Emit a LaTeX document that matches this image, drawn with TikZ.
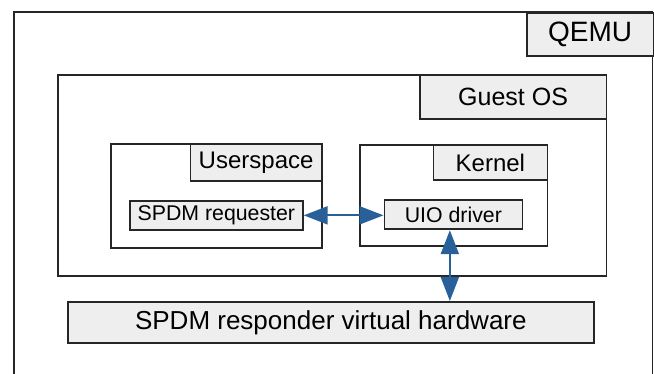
\documentclass[tikz,border=0pt]{standalone}
\usepackage{fontspec}
\setmainfont{Liberation Sans}
\usetikzlibrary{arrows.meta}
\definecolor{arrowblue}{HTML}{2A6099}
\definecolor{lblgray}{HTML}{EEEEEE}
\tikzset{
  frame/.style={draw=black!85, line width=1.7pt},
  box/.style={draw=black!85, line width=1.7pt, inner sep=0pt, anchor=north west, rectangle},
  lbl/.style={box, fill=lblgray, text=black},
  conn/.style={draw=arrowblue, line width=2pt, {Triangle[length=24pt,width=18pt]}-{Triangle[length=24pt,width=18pt]}, fill=arrowblue},
}
\begin{document}
\begin{tikzpicture}[x=1pt,y=-1pt]
\useasboundingbox (0,0) rectangle (654,374);
% QEMU outer frame (open at bottom)
\draw[frame] (13.75,380) -- (13.75,12) -- (652.5,12) -- (652.5,380);
\node[lbl, minimum width=126.5pt, minimum height=43pt, font=\fontsize{28}{30}\selectfont] (qemu) at (526,12) {QEMU};
% Guest OS
\node[box, minimum width=548.5pt, minimum height=201pt] (guest) at (57,74) {};
\node[lbl, minimum width=186.5pt, minimum height=44pt, font=\fontsize{25}{28}\selectfont] (guestlbl) at (419,74) {Guest OS};
% Userspace
\node[box, minimum width=211pt, minimum height=103.5pt] (user) at (110,143.5) {};
\node[lbl, minimum width=131.5pt, minimum height=36.5pt, font=\fontsize{24}{27}\selectfont] (userlbl) at (189.5,143.5) {Userspace};
% Kernel
\node[box, minimum width=187.5pt, minimum height=101pt] (kernel) at (359,144.5) {};
\node[lbl, minimum width=114pt, minimum height=34.5pt, font=\fontsize{24}{27}\selectfont] (kernellbl) at (432.5,144.5) {Kernel};
% Inner nodes
\node[lbl, minimum width=173pt, minimum height=29pt, font=\fontsize{21.3}{24}\selectfont] (req) at (129,200) {SPDM requester};
\node[lbl, minimum width=138pt, minimum height=29.5pt, font=\fontsize{21.3}{24}\selectfont] (uio) at (383.5,199) {UIO driver};
% Responder
\node[lbl, minimum width=526pt, minimum height=41pt, font=\fontsize{26}{29}\selectfont] (resp) at (67,301) {SPDM responder virtual hardware};
% Connectors
\draw[conn] (req.east) -- (req.east -| uio.west);
\draw[conn] ([xshift=-3.5pt]uio.south) -- ([xshift=-3.5pt]uio.south |- resp.north);
\end{tikzpicture}
\end{document}
